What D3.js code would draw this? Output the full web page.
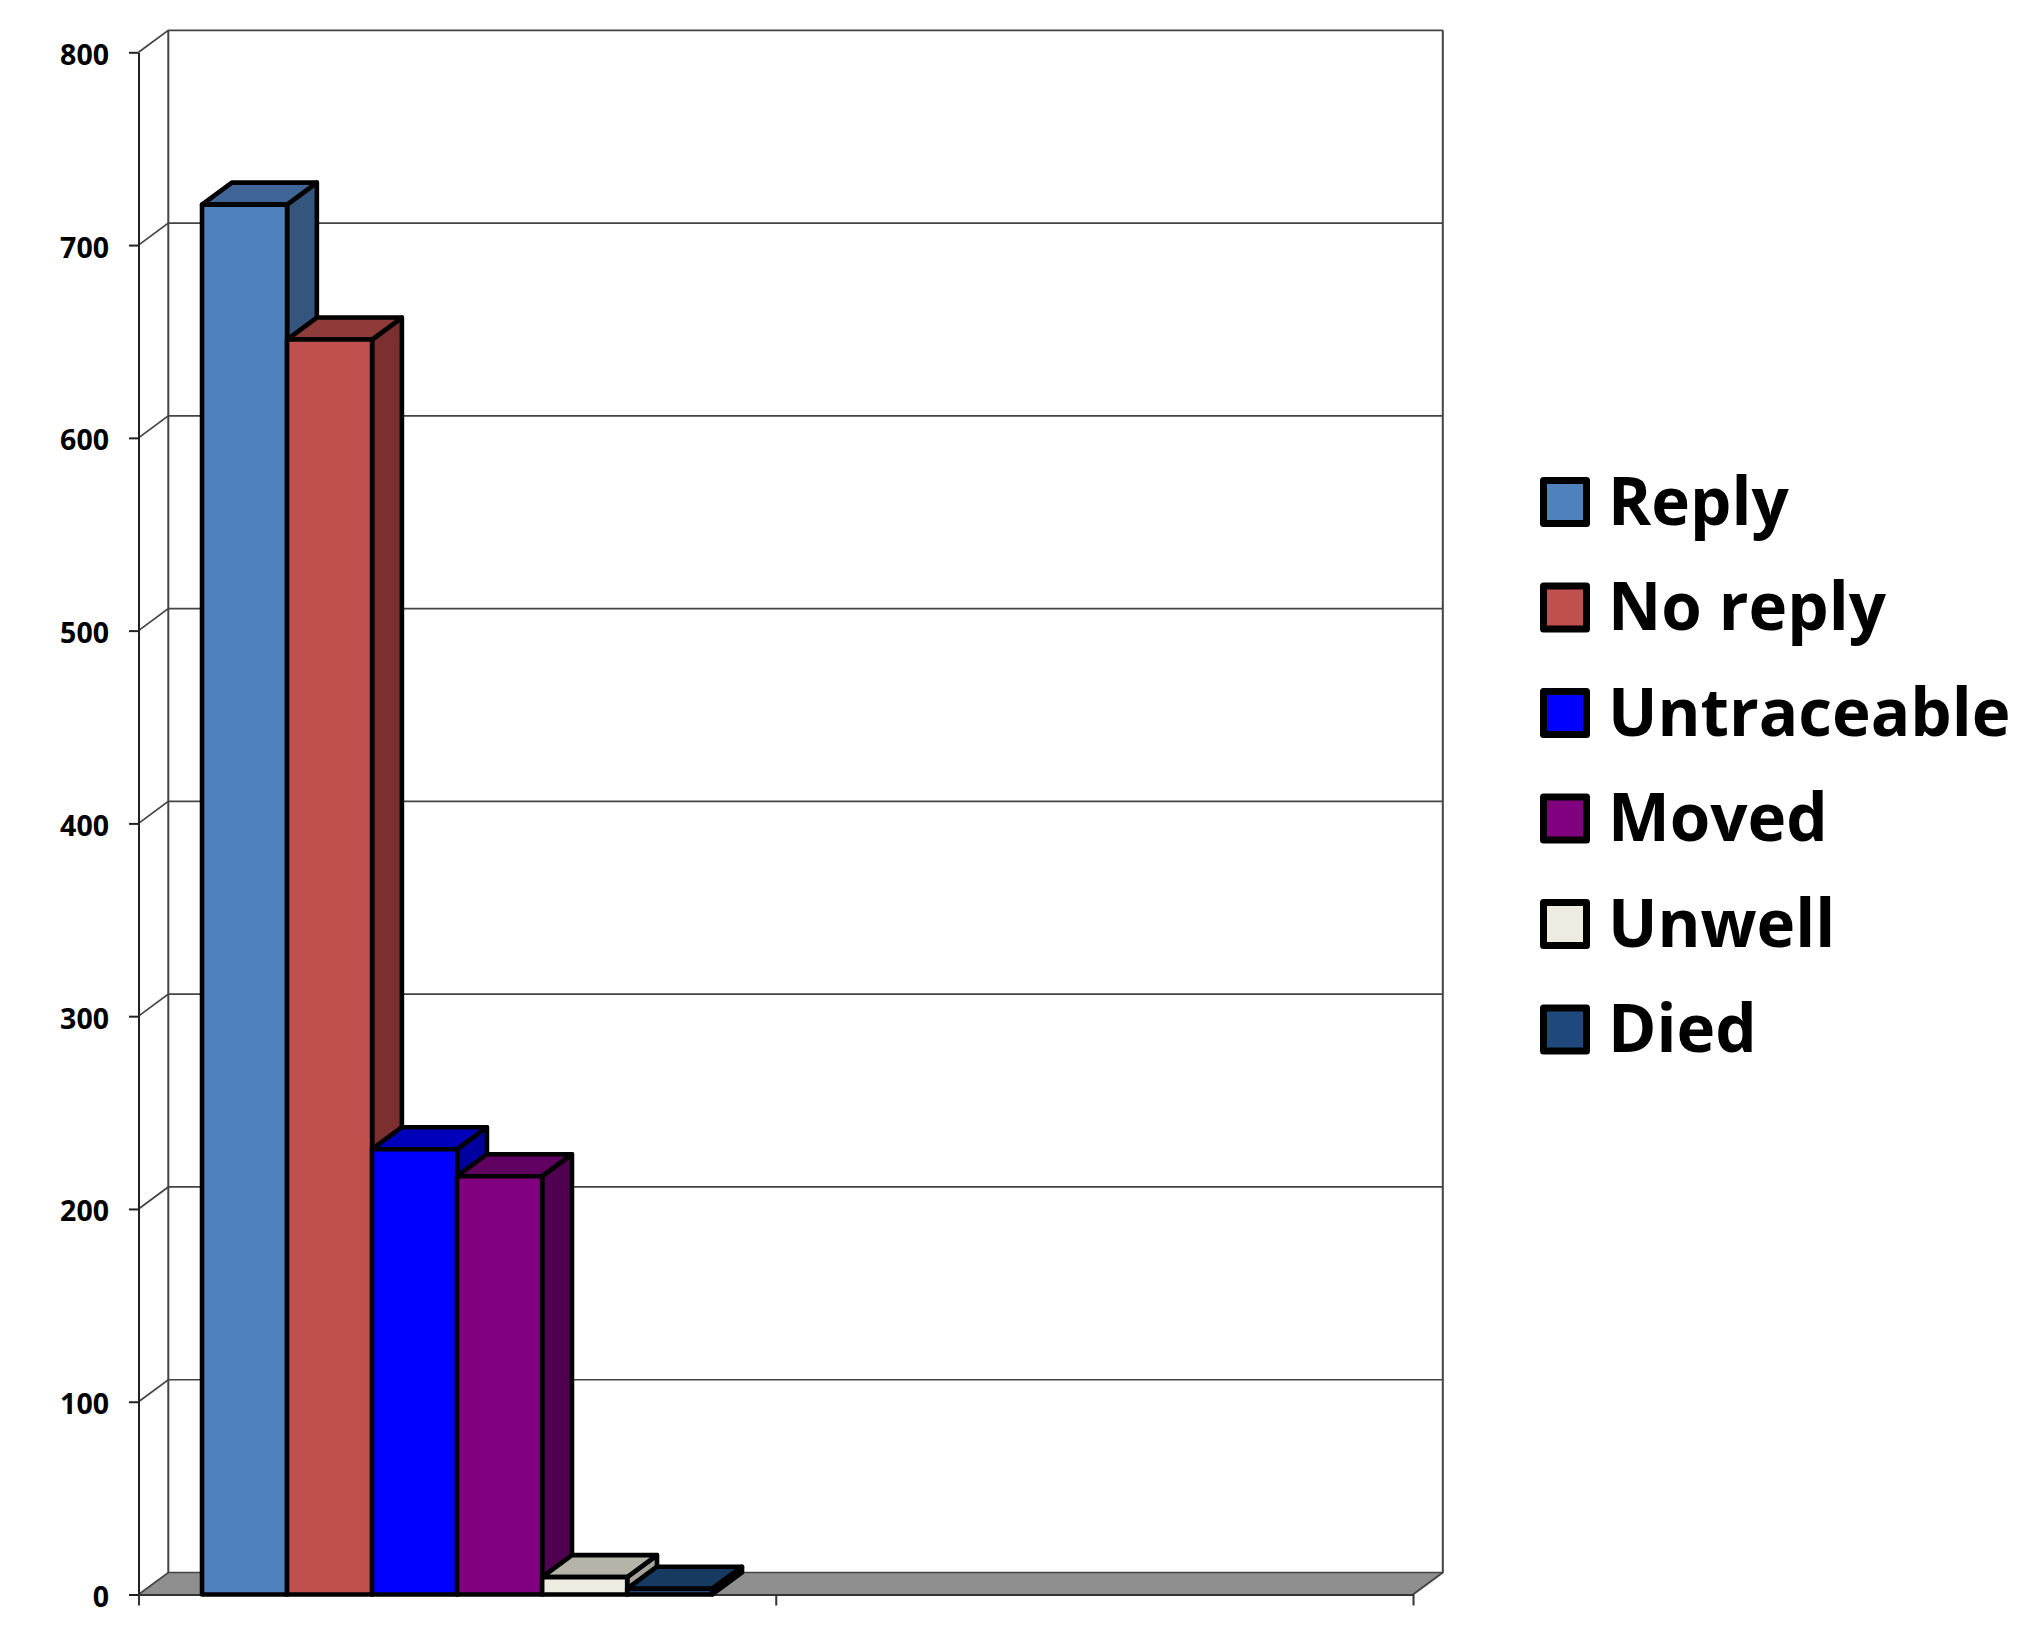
<!DOCTYPE html>
<html>
<head>
<meta charset="utf-8">
<script src="https://cdnjs.cloudflare.com/ajax/libs/d3/7.8.5/d3.min.js"></script>
<style>
  html, body { margin: 0; background: #fff; }
  text { font-family: "Open Sans", sans-serif; font-weight: 700; fill: #000; }
</style>
</head>
<body>
<svg width="2042" height="1636" style="display:block"></svg>
<script>
// values
var seriesNames = ["Reply", "No reply", "Untraceable", "Moved", "Unwell", "Died"];
var seriesValues = [721, 651, 231, 217, 9, 3];
var yTicks = [0, 100, 200, 300, 400, 500, 600, 700, 800];
var categoryEdges = [0, 1, 2];

var frontColors = ["#4f81bd", "#c0504d", "#0000ff", "#800080", "#eeece1", "#1f497d"];
var topColors = ["#3f6696", "#8f3b39", "#0000bc", "#600060", "#b5b3aa", "#173a60"];
var sideColors = ["#34557e", "#7b2f2e", "#0000a0", "#500050", "#a5a39c", "#143152"];

var svg = d3.select("svg");

var plotLeft = 138.5, plotRight = 1413, plotBottom = 1594.5, plotTop = 52.3;
// offset of the back wall from the front of the box
var dx = 29.8, dy = -22;

var yScale = d3.scaleLinear().domain([0, 800]).range([plotBottom, plotTop]);
var xEdge = d3.scaleLinear().domain([0, 2]).range([plotLeft, plotRight]);
var xSeries = d3.scaleBand()
  .domain(seriesNames)
  .range([xEdge(0), xEdge(1)])
  .paddingInner(0)
  .paddingOuter(0.747);

var wall = "#444";

function poly(g, pts, fill, stroke, width) {
  return g.append("polygon")
    .attr("points", pts.map(function (p) { return p.join(","); }).join(" "))
    .attr("fill", fill)
    .attr("stroke", stroke)
    .attr("stroke-width", width)
    .attr("stroke-linejoin", "round");
}

//floor
poly(svg.append("g"), [
  [plotLeft, plotBottom], [plotLeft + dx, plotBottom + dy], [plotRight + dx, plotBottom + dy], [plotRight, plotBottom]
], "#8f8f8f", "none", 0);

//back wall and gridlines
var grid = svg.append("g").attr("fill", "none");
grid.selectAll(".grid")
  .data(yTicks)
  .enter()
  .append("path")
  .attr("class", "grid")
  .attr("stroke", wall)
  .attr("stroke-width", 1.7)
  .attr("d", function (d) {
    var y = yScale(d);
    return "M" + plotLeft + "," + y + "L" + (plotLeft + dx) + "," + (y + dy) + "L" + (plotRight + dx) + "," + (y + dy);
  });
grid.append("path")
  .attr("stroke", wall)
  .attr("stroke-width", 2)
  .attr("d", "M" + (plotLeft + dx) + "," + (plotTop + dy) + "V" + (plotBottom + dy));
grid.append("path")
  .attr("stroke", wall)
  .attr("stroke-width", 2)
  .attr("d", "M" + (plotRight + dx) + "," + (plotTop + dy) + "V" + (plotBottom + dy) + "L" + plotRight + "," + plotBottom);

//axes
var yAxis = svg.append("g")
  .attr("transform", "translate(" + plotLeft + ",0)")
  .call(d3.axisLeft(yScale).tickValues(yTicks).tickSize(9.5).tickSizeOuter(0).tickPadding(20));
yAxis.selectAll("path, line").attr("stroke", "#222").attr("stroke-width", 2);
yAxis.selectAll("text")
  .attr("font-size", "28.5px")
  .attr("dy", "12px");
yAxis.attr("font-family", null).attr("font-size", null);

var xAxis = svg.append("g")
  .attr("transform", "translate(0," + plotBottom + ")")
  .call(d3.axisBottom(xEdge).tickValues(categoryEdges).tickSize(11).tickSizeOuter(0).tickFormat(""));
xAxis.selectAll("path, line").attr("stroke", "#333").attr("stroke-width", 2);

//bars
var bars = svg.selectAll(".bar")
  .data(seriesNames)
  .enter()
  .append("g")
  .attr("class", "bar")
  .each(function (name, i) {
    var g = d3.select(this);
    var x0 = xSeries(name), x1 = x0 + xSeries.bandwidth();
    var yt = yScale(seriesValues[i]), y0 = yScale(0);
    poly(g, [[x1, y0], [x1 + dx, y0 + dy], [x1 + dx, yt + dy], [x1, yt]], sideColors[i], "#000", 4.6);
    poly(g, [[x0, yt], [x0 + dx, yt + dy], [x1 + dx, yt + dy], [x1, yt]], topColors[i], "#000", 4.6);
    poly(g, [[x0, y0], [x0, yt], [x1, yt], [x1, y0]], frontColors[i], "#000", 4.6);
  });

//legend
var legend = svg.selectAll(".legend")
  .data(seriesNames)
  .enter()
  .append("g")
  .attr("class", "legend")
  .attr("transform", function (d, i) { return "translate(0," + i * 105.5 + ")"; });

legend.append("rect")
  .attr("x", 1543.5)
  .attr("y", 480.5)
  .attr("width", 43)
  .attr("height", 43)
  .attr("stroke", "#000")
  .attr("stroke-width", 7)
  .attr("stroke-linejoin", "round")
  .attr("fill", function (d, i) { return frontColors[i]; });

legend.append("text")
  .attr("x", 1608)
  .attr("y", 524.5)
  .attr("font-size", "65.5px")
  .text(function (d) { return d; });
</script>
</body>
</html>
